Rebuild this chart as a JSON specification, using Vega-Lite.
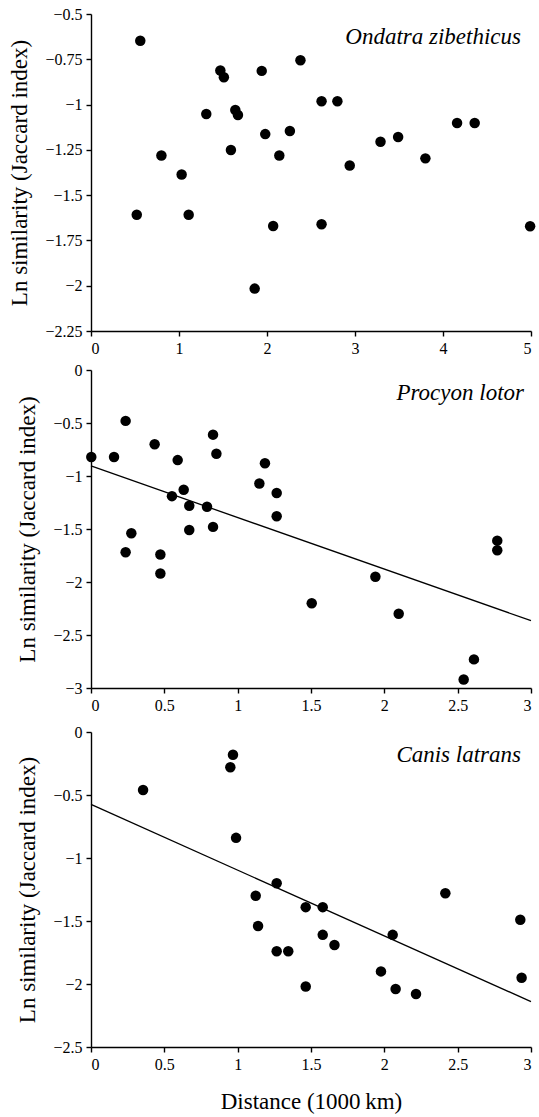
{
  "$schema": "https://vega.github.io/schema/vega-lite/v6.json",
  "padding": {"left": 8, "top": 6, "right": 5, "bottom": 5},
  "background": "white",
  "config": {
    "view": {"stroke": null},
    "font": "Liberation Serif, DejaVu Serif, serif",
    "axis": {
      "grid": false,
      "domainColor": "black",
      "domainWidth": 1.4,
      "tickColor": "black",
      "tickWidth": 1.4,
      "tickSize": 5,
      "labelFont": "Liberation Serif, DejaVu Serif, serif",
      "labelFontSize": 16,
      "labelColor": "black",
      "labelPadding": 4,
      "titleFont": "Liberation Serif, DejaVu Serif, serif",
      "titleFontSize": 23,
      "titleFontWeight": "normal",
      "titleColor": "black",
      "format": ".2~f"
    },
    "title": {
      "font": "Liberation Serif, DejaVu Serif, serif",
      "fontSize": 23,
      "fontStyle": "italic",
      "fontWeight": "normal",
      "color": "black",
      "anchor": "end",
      "frame": "group"
    }
  },
  "datasets": {
    "ondatra": [
      {"d": 0.56, "s": -0.648}, {"d": 0.52, "s": -1.608}, {"d": 0.80, "s": -1.281},
      {"d": 1.03, "s": -1.386}, {"d": 1.11, "s": -1.608}, {"d": 1.31, "s": -1.052},
      {"d": 1.47, "s": -0.812}, {"d": 1.51, "s": -0.849}, {"d": 1.64, "s": -1.03},
      {"d": 1.67, "s": -1.058}, {"d": 1.59, "s": -1.251}, {"d": 1.94, "s": -0.814},
      {"d": 1.86, "s": -2.016}, {"d": 1.98, "s": -1.163}, {"d": 2.07, "s": -1.67},
      {"d": 2.14, "s": -1.281}, {"d": 2.26, "s": -1.146}, {"d": 2.38, "s": -0.755},
      {"d": 2.62, "s": -0.982}, {"d": 2.80, "s": -0.982}, {"d": 2.62, "s": -1.661},
      {"d": 2.94, "s": -1.336}, {"d": 3.29, "s": -1.205}, {"d": 3.49, "s": -1.179},
      {"d": 3.80, "s": -1.297}, {"d": 4.16, "s": -1.102}, {"d": 4.36, "s": -1.102},
      {"d": 4.99, "s": -1.672}
    ],
    "procyon": [
      {"d": 0.002, "s": -0.82}, {"d": 0.157, "s": -0.82}, {"d": 0.236, "s": -0.48},
      {"d": 0.236, "s": -1.72}, {"d": 0.275, "s": -1.54}, {"d": 0.434, "s": -0.70},
      {"d": 0.473, "s": -1.74}, {"d": 0.473, "s": -1.92}, {"d": 0.552, "s": -1.19},
      {"d": 0.591, "s": -0.85}, {"d": 0.632, "s": -1.13}, {"d": 0.67, "s": -1.28},
      {"d": 0.67, "s": -1.51}, {"d": 0.791, "s": -1.29}, {"d": 0.832, "s": -0.61},
      {"d": 0.855, "s": -0.79}, {"d": 0.832, "s": -1.48}, {"d": 1.148, "s": -1.07},
      {"d": 1.186, "s": -0.88}, {"d": 1.266, "s": -1.16}, {"d": 1.266, "s": -1.38},
      {"d": 1.505, "s": -2.20}, {"d": 1.939, "s": -1.95}, {"d": 2.098, "s": -2.30},
      {"d": 2.541, "s": -2.92}, {"d": 2.611, "s": -2.73}, {"d": 2.77, "s": -1.61},
      {"d": 2.77, "s": -1.70}
    ],
    "procyonFit": [{"d": 0, "s": -0.905}, {"d": 3, "s": -2.365}],
    "canis": [
      {"d": 0.355, "s": -0.46}, {"d": 0.95, "s": -0.28}, {"d": 0.968, "s": -0.18},
      {"d": 0.989, "s": -0.84}, {"d": 1.123, "s": -1.30}, {"d": 1.139, "s": -1.54},
      {"d": 1.266, "s": -1.20}, {"d": 1.266, "s": -1.74}, {"d": 1.345, "s": -1.74},
      {"d": 1.464, "s": -1.39}, {"d": 1.464, "s": -2.02}, {"d": 1.58, "s": -1.39},
      {"d": 1.58, "s": -1.61}, {"d": 1.66, "s": -1.69}, {"d": 1.977, "s": -1.90},
      {"d": 2.057, "s": -1.61}, {"d": 2.077, "s": -2.04}, {"d": 2.216, "s": -2.08},
      {"d": 2.416, "s": -1.28}, {"d": 2.927, "s": -1.49}, {"d": 2.936, "s": -1.95}
    ],
    "canisFit": [{"d": 0, "s": -0.575}, {"d": 3, "s": -2.14}]
  },
  "spacing": 11,
  "vconcat": [
    {
      "spacing": 6,
      "vconcat": [
        {
          "width": 440,
          "height": 317,
          "title": {"text": "Ondatra zibethicus", "offset": -43, "dx": -10},
          "data": {"name": "ondatra"},
          "mark": {"type": "point", "filled": true, "color": "black", "opacity": 1, "size": 110, "shape": "circle"},
          "encoding": {
            "x": {"field": "d", "type": "quantitative", "scale": {"domain": [0, 5], "nice": false, "zero": false},
                  "axis": {"title": null, "values": [0, 1, 2, 3, 4, 5]}},
            "y": {"field": "s", "type": "quantitative", "scale": {"domain": [-2.25, -0.5], "nice": false, "zero": false},
                  "axis": {"title": "Ln similarity (Jaccard index)", "titlePadding": 13,
                           "values": [-2.25, -2, -1.75, -1.5, -1.25, -1, -0.75, -0.5]}}
          }
        },
        {
          "width": 440,
          "height": 318,
          "title": {"text": "Procyon lotor", "offset": -43, "dx": -7},
          "layer": [
            {
              "data": {"name": "procyonFit"},
              "mark": {"type": "line", "color": "black", "strokeWidth": 1.3},
              "encoding": {
                "x": {"field": "d", "type": "quantitative"},
                "y": {"field": "s", "type": "quantitative"}
              }
            },
            {
              "data": {"name": "procyon"},
              "mark": {"type": "point", "filled": true, "color": "black", "opacity": 1, "size": 110, "shape": "circle"},
              "encoding": {
                "x": {"field": "d", "type": "quantitative", "scale": {"domain": [0, 3], "nice": false, "zero": false},
                      "axis": {"title": null, "values": [0, 0.5, 1, 1.5, 2, 2.5, 3]}},
                "y": {"field": "s", "type": "quantitative", "scale": {"domain": [-3, 0], "nice": false, "zero": false},
                      "axis": {"title": "Ln similarity (Jaccard index)", "titlePadding": 13,
                               "values": [-3, -2.5, -2, -1.5, -1, -0.5, 0]}}
              }
            }
          ]
        }
      ]
    },
    {
      "width": 440,
      "height": 315,
      "title": {"text": "Canis latrans", "offset": -43, "dx": -10},
      "layer": [
        {
          "data": {"name": "canisFit"},
          "mark": {"type": "line", "color": "black", "strokeWidth": 1.3},
          "encoding": {
            "x": {"field": "d", "type": "quantitative"},
            "y": {"field": "s", "type": "quantitative"}
          }
        },
        {
          "data": {"name": "canis"},
          "mark": {"type": "point", "filled": true, "color": "black", "opacity": 1, "size": 110, "shape": "circle"},
          "encoding": {
            "x": {"field": "d", "type": "quantitative", "scale": {"domain": [0, 3], "nice": false, "zero": false},
                  "axis": {"title": "Distance (1000\u2009km)", "titlePadding": 18, "values": [0, 0.5, 1, 1.5, 2, 2.5, 3]}},
            "y": {"field": "s", "type": "quantitative", "scale": {"domain": [-2.5, 0], "nice": false, "zero": false},
                  "axis": {"title": "Ln similarity (Jaccard index)", "titlePadding": 13,
                           "values": [-2.5, -2, -1.5, -1, -0.5, 0]}}
          }
        }
      ]
    }
  ]
}
